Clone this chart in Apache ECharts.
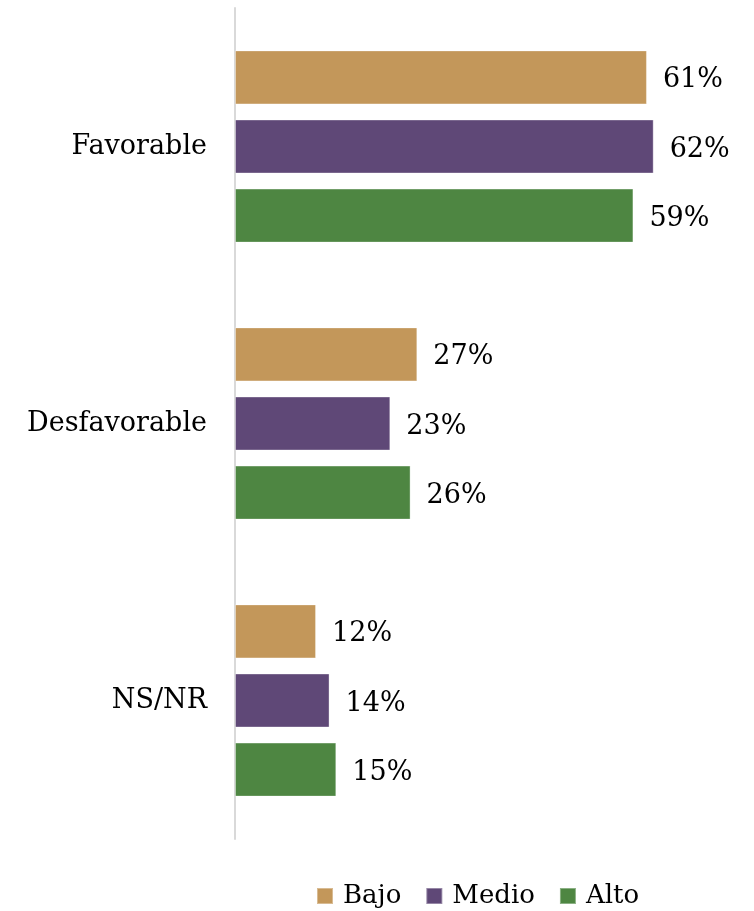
<!DOCTYPE html>
<html><head><meta charset="utf-8">
<script src="https://cdn.jsdelivr.net/npm/echarts@6/dist/echarts.min.js"></script>
<style>html,body{margin:0;padding:0;background:#fff}#c{width:754px;height:911px}</style>
</head><body><div id="c"></div>
<script>
const categories = ['Favorable', 'Desfavorable', 'NS/NR'];
const seriesNames = ['Bajo', 'Medio', 'Alto'];
const bajo = [61, 27, 12];
const medio = [62, 23, 14];
const alto = [59, 26, 15];
const colors = ['#C3975A', '#5F4877', '#4E8642'];
const FONT = 'DejaVu Serif';
const chart = echarts.init(document.getElementById('c'));
const vals = [bajo, medio, alto];
chart.setOption({
  animation: false,
  color: colors,
  textStyle: { fontFamily: FONT },
  grid: { left: 235, right: 49, top: 8, bottom: 72 },
  legend: {
    top: 878, left: 311, itemWidth: 16, itemHeight: 16, itemGap: 24,
    icon: 'rect',
    textStyle: { fontFamily: FONT, fontSize: 26, color: '#000', padding: [0, 0, 0, 5] },
    data: seriesNames
  },
  xAxis: { type: 'value', min: 0, max: 69.6, show: false },
  yAxis: {
    type: 'category', data: categories, inverse: true,
    axisLine: { show: true, lineStyle: { color: '#d9d9d9', width: 2 } },
    axisTick: { show: false },
    axisLabel: { fontFamily: FONT, fontSize: 27, color: '#000', margin: 28, padding: [4, 0, 0, 0] }
  },
  series: seriesNames.map((n, i) => ({
    name: n, type: 'bar', data: vals[i],
    barWidth: 54, barGap: '28%', barCategoryGap: '30%',
    itemStyle: { color: colors[i], borderColor: 'rgba(255,255,255,0.35)', borderWidth: 1 },
    label: { show: true, position: 'right', distance: 16, offset: [0, 3], formatter: '{c}%', fontFamily: FONT, fontSize: 27, color: '#000' }
  }))
});
</script></body></html>
